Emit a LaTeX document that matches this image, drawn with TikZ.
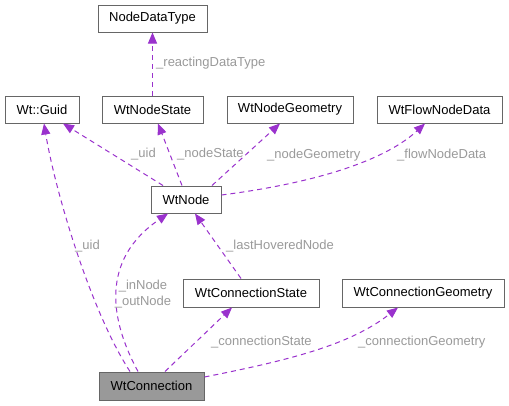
\documentclass[tikz,border=0pt]{standalone}
\usepackage{fontspec}
\setmainfont{Liberation Sans}
\usetikzlibrary{arrows.meta}
\definecolor{edgec}{HTML}{9A32CD}
\definecolor{labc}{HTML}{9A9A9A}
\definecolor{boxc}{HTML}{666666}
\definecolor{fillc}{HTML}{999999}
\begin{document}
\begin{tikzpicture}[x=1pt,y=-1pt,
  font=\fontsize{13}{16}\selectfont,
  box/.style={draw=boxc, fill=white, line width=1pt, minimum height=27pt, inner sep=0pt},
  cur/.style={box, fill=fillc},
  rel/.style={draw=edgec, line width=1pt, dash pattern=on 5pt off 4pt, -{Triangle[length=11pt,width=9pt]}},
  lab/.style={text=labc, anchor=west, inner sep=0pt, text height=9.5pt, text depth=2.5pt}]
\useasboundingbox[fill=white] (0,0) rectangle (509,405);
% boxes
\node[box, minimum width=109pt] (ndt) at (152.5,18.5) {NodeDataType};
\node[box, minimum width=74pt] (guid) at (42,109.5) {Wt::Guid};
\node[box, minimum width=101pt] (nstate) at (152.5,109.5) {WtNodeState};
\node[box, minimum width=126pt] (ngeom) at (290,109.5) {WtNodeGeometry};
\node[box, minimum width=125pt] (flow) at (439.5,109.5) {WtFlowNodeData};
\node[box, minimum width=70pt] (wtnode) at (186,199.5) {WtNode};
\node[box, minimum width=136pt, minimum height=28pt] (cstate) at (251,293) {WtConnectionState};
\node[box, minimum width=162pt, minimum height=28pt] (cgeom) at (423,293) {WtConnectionGeometry};
\node[cur, minimum width=105pt, minimum height=28pt] (conn) at (151.5,386) {WtConnection};
% edges
\draw[rel] (nstate.north) -- (ndt.south);
\draw[rel] ([xshift=-23pt]wtnode.north) -- ([xshift=21pt]guid.south);
\draw[rel] ([xshift=-4pt]wtnode.north) -- ([xshift=5.5pt]nstate.south);
\draw[rel] ([xshift=26pt]wtnode.north) -- ([xshift=-10pt]ngeom.south);
\draw[rel] ([yshift=4.5pt]wtnode.east) .. controls (300,185) and (380,165) .. ([xshift=-14.5pt]flow.south);
\draw[rel] ([xshift=-21.5pt]conn.north) .. controls (90,310) and (55,190) .. ([xshift=2pt]guid.south);
\draw[rel] ([xshift=-13.5pt]conn.north) .. controls (110,320) and (100,260) .. ([xshift=-18pt]wtnode.south);
\draw[rel] ([xshift=-10pt]cstate.north) -- ([xshift=9pt]wtnode.south);
\draw[rel] ([xshift=13.5pt]conn.north) -- ([xshift=-19pt]cstate.south);
\draw[rel] ([yshift=9pt]conn.east) .. controls (290,360) and (350,345) .. ([xshift=-25pt]cgeom.south);
% labels
\node[lab] (l1) at (156,63) {\_reactingDataType};
\node[lab] (l2) at (131,154) {\_uid};
\node[lab] (l3) at (177,154) {\_nodeState};
\node[lab] (l4) at (267,155) {\_nodeGeometry};
\node[lab] (l5) at (397,155) {\_flowNodeData};
\node[lab] (l6) at (75,246) {\_uid};
\node[lab] (l7) at (226,246) {\_lastHoveredNode};
\node[text=labc, align=center, inner sep=0pt] (l8) at (143,294) {\_inNode\\\_outNode};
\node[lab] (l9) at (211,342) {\_connectionState};
\node[lab] (l10) at (358,342) {\_connectionGeometry};
\end{tikzpicture}
\end{document}
